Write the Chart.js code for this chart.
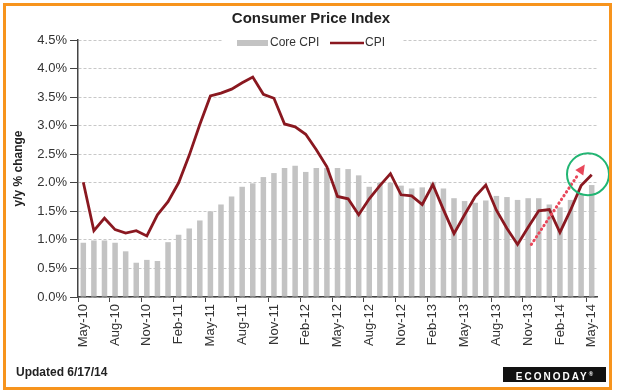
<!DOCTYPE html>
<html>
<head>
<meta charset="utf-8">
<script src="https://cdn.jsdelivr.net/npm/chart.js@4.4.1/dist/chart.umd.min.js"></script>
<style>
  body { margin: 0; background: #fff; }
  #wrap { position: relative; width: 617px; height: 392px; }
  #frame { position: absolute; left: 3px; top: 3px; width: 609px; height: 387px; border: 3px solid #F7941D; box-sizing: border-box; pointer-events: none; }
  #updated { position: absolute; left: 16px; top: 365px; font: bold 12px "Liberation Sans", Arial, sans-serif; color: #222; }
  #logo { position: absolute; left: 503px; top: 367px; width: 103px; height: 15px; background: #111; color: #fff;
          font: bold 10px "Liberation Sans", Arial, sans-serif; letter-spacing: 2px; line-height: 15px; text-align: center; }
  #logo sup { font-size: 6px; letter-spacing: 0; }
</style>
</head>
<body>
<div id="wrap">
  <canvas id="cpiChart"></canvas>
  <div id="frame"></div>
  <div id="updated">Updated 6/17/14</div>
  <div id="logo">ECONODAY<sup>®</sup></div>
</div>
<script>
// monthly, May-10 .. May-14
const months = [
  'May-10', 'Jun-10', 'Jul-10', 'Aug-10', 'Sep-10', 'Oct-10', 'Nov-10', 'Dec-10',
  'Jan-11', 'Feb-11', 'Mar-11', 'Apr-11', 'May-11', 'Jun-11', 'Jul-11', 'Aug-11', 'Sep-11', 'Oct-11', 'Nov-11', 'Dec-11',
  'Jan-12', 'Feb-12', 'Mar-12', 'Apr-12', 'May-12', 'Jun-12', 'Jul-12', 'Aug-12', 'Sep-12', 'Oct-12', 'Nov-12', 'Dec-12',
  'Jan-13', 'Feb-13', 'Mar-13', 'Apr-13', 'May-13', 'Jun-13', 'Jul-13', 'Aug-13', 'Sep-13', 'Oct-13', 'Nov-13', 'Dec-13',
  'Jan-14', 'Feb-14', 'Mar-14', 'Apr-14', 'May-14'
];

const coreCPI = [
  0.95, 0.99, 0.99, 0.95, 0.80, 0.60, 0.65, 0.63,
  0.96, 1.09, 1.20, 1.34, 1.50, 1.62, 1.76, 1.93, 1.99, 2.10, 2.17, 2.26,
  2.30, 2.19, 2.26, 2.26, 2.26, 2.24, 2.13, 1.93, 2.00, 2.00, 1.95, 1.90,
  1.92, 2.00, 1.90, 1.73, 1.68, 1.65, 1.69, 1.77, 1.75, 1.70, 1.73, 1.73,
  1.62, 1.57, 1.70, 1.80, 1.96
];

const cpi = [
  2.01, 1.16, 1.38, 1.18, 1.12, 1.16, 1.07, 1.44,
  1.67, 2.00, 2.48, 3.02, 3.52, 3.57, 3.64, 3.75, 3.85, 3.55, 3.48, 3.03,
  2.98, 2.85, 2.58, 2.28, 1.76, 1.72, 1.44, 1.72, 1.95, 2.16, 1.79, 1.77,
  1.62, 1.97, 1.53, 1.11, 1.44, 1.76, 1.96, 1.52, 1.20, 0.92, 1.22, 1.51,
  1.53, 1.13, 1.52, 1.95, 2.14
];

// hand-drawn markup on the original, in data coordinates (category index, %)
const circleAt = [47.65, 2.15];
const arrowFrom = [42.3, 0.92];
const arrowTo = [47.35, 2.32];

const FONT = '"Liberation Sans", Arial, sans-serif';
const TITLE = 'Consumer Price Index';

// title + legend sit over the top gridline, drawn by hand
const headerPlugin = {
  id: 'header',
  afterDraw(chart) {
    const ctx = chart.ctx;
    const ds = chart.data.datasets;
    const y = 43;
    ctx.save();
    ctx.fillStyle = '#222';
    ctx.font = 'bold 15px ' + FONT;
    ctx.textAlign = 'center';
    ctx.textBaseline = 'middle';
    ctx.fillText(TITLE, 311, 19);

    ctx.textAlign = 'left';
    ctx.fillStyle = '#fff';
    ctx.fillRect(222, 35, 180, 16);
    ctx.font = '12px ' + FONT;
    // Core CPI: grey block
    ctx.fillStyle = ds[0].backgroundColor;
    ctx.fillRect(237, y - 3, 31, 6);
    ctx.fillStyle = '#333';
    ctx.fillText(ds[0].label, 270, y);
    // CPI: red line
    ctx.strokeStyle = ds[1].borderColor;
    ctx.lineWidth = 2.5;
    ctx.beginPath();
    ctx.moveTo(330, y);
    ctx.lineTo(364, y);
    ctx.stroke();
    ctx.fillText(ds[1].label, 365, y);
    ctx.restore();
  }
};

const markupPlugin = {
  id: 'markup',
  afterDatasetsDraw(chart) {
    const {ctx, scales: {x, y}} = chart;
    const cx = x.getPixelForValue(circleAt[0]);
    const cy = y.getPixelForValue(circleAt[1]);
    const x1 = x.getPixelForValue(arrowFrom[0]);
    const y1 = y.getPixelForValue(arrowFrom[1]);
    const x2 = x.getPixelForValue(arrowTo[0]);
    const y2 = y.getPixelForValue(arrowTo[1]);
    const ang = Math.atan2(y2 - y1, x2 - x1);
    const head = 11;
    ctx.save();
    // dotted shaft
    ctx.strokeStyle = '#E8475A';
    ctx.lineWidth = 3;
    ctx.lineCap = 'round';
    ctx.setLineDash([0.5, 4]);
    ctx.beginPath();
    ctx.moveTo(x1, y1);
    ctx.lineTo(x2 - Math.cos(ang) * head, y2 - Math.sin(ang) * head);
    ctx.stroke();
    ctx.setLineDash([]);
    // head
    ctx.fillStyle = '#E8475A';
    ctx.beginPath();
    ctx.moveTo(x2, y2);
    ctx.lineTo(x2 - head * Math.cos(ang - 0.45), y2 - head * Math.sin(ang - 0.45));
    ctx.lineTo(x2 - head * Math.cos(ang + 0.45), y2 - head * Math.sin(ang + 0.45));
    ctx.closePath();
    ctx.fill();
    // green circle
    ctx.strokeStyle = '#22B573';
    ctx.lineWidth = 2;
    ctx.beginPath();
    ctx.arc(cx, cy, 21, 0, Math.PI * 2);
    ctx.stroke();
    ctx.restore();
  }
};

new Chart(document.getElementById('cpiChart').getContext('2d'), {
  type: 'bar',
  data: {
    labels: months,
    datasets: [{
      label: 'Core CPI',
      data: coreCPI,
      backgroundColor: '#C3C3C3',
      borderWidth: 0,
      categoryPercentage: 1,
      barPercentage: 0.52,
      order: 2
    }, {
      type: 'line',
      label: 'CPI',
      data: cpi,
      borderColor: '#8A1820',
      borderWidth: 2.8,
      pointRadius: 0,
      tension: 0,
      fill: false,
      order: 1
    }]
  },
  options: {
    responsive: true,
    maintainAspectRatio: false,
    animation: false,
    layout: { padding: { top: 40, left: 0, right: 20, bottom: 30 } },
    plugins: {
      legend: { display: false },
      tooltip: { enabled: false },
      title: { display: false }
    },
    scales: {
      x: {
        afterFit(scale) { scale.height = 65; },
        grid: {
          display: true,
          drawOnChartArea: false,
          drawTicks: true,
          tickLength: 5,
          lineWidth: 1,
          tickColor: (c) => (c.index % 3 === 0 ? '#444' : 'rgba(0,0,0,0)')
        },
        border: { display: true, color: '#444', width: 1.5 },
        ticks: {
          autoSkip: false,
          maxRotation: 90,
          minRotation: 90,
          padding: 2,
          color: '#333',
          font: { family: FONT, size: 13 },
          callback: (val, idx) => (idx % 3 === 0 ? months[idx] : '')
        }
      },
      y: {
        min: 0,
        max: 4.5,
        afterFit(scale) { scale.width = 78; },
        grid: {
          color: '#C8C8C8',
          lineWidth: 1,
          drawTicks: true,
          tickLength: 8,
          tickColor: '#444',
          tickBorderDash: []
        },
        border: { display: true, color: '#444', width: 1.5, dash: [3, 2] },
        ticks: {
          stepSize: 0.5,
          padding: 3,
          color: '#333',
          font: { family: FONT, size: 13 },
          callback: (v) => v.toFixed(1) + '%'
        },
        title: {
          display: true,
          text: 'y/y % change',
          color: '#222',
          font: { family: FONT, size: 12, weight: 'bold' },
          padding: { top: 11, bottom: 0 }
        }
      }
    }
  },
  plugins: [markupPlugin, headerPlugin]
});
</script>
</body>
</html>
